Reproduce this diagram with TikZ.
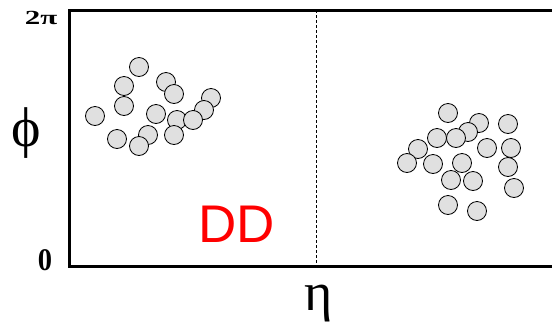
\documentclass[tikz,border=0pt]{standalone}
\usepackage{fontspec}
\usepackage{graphicx}
\setmainfont{Liberation Serif}
\newfontfamily\ddfont{Liberation Sans}
\usetikzlibrary{positioning}
\definecolor{hitgray}{RGB}{224,224,224}
\definecolor{ddred}{RGB}{255,0,0}
\tikzset{
  hit/.style={circle,draw=black,fill=hitgray,line width=0.8pt,
              minimum size=19pt,inner sep=0pt},
  frameline/.style={line width=3pt},
}

\begin{document}
\begin{tikzpicture}[x=1pt,y=-1pt,
    axislabel/.style={font=\fontsize{56}{56}\selectfont,inner sep=0pt},
    ticklabel/.style={font=\fontsize{20}{20}\selectfont\bfseries,inner sep=0pt},
  ]
  \useasboundingbox (0,0) rectangle (552,325);
  \clip (0,0) rectangle (552,325);

  % frame, open to the right
  \coordinate (tl) at (69,10);
  \coordinate (bl) at (69,266);
  \coordinate (tr) at (570,10);
  \coordinate (br) at (570,266);
  \draw[frameline] (tr) -- (tl) -- (bl) -- (br);

  % divider
  \coordinate (mtop) at (316,10);
  \coordinate (mbot) at (316,266);
  \draw[line width=1pt,dash pattern=on 3pt off 2pt] (mtop) -- (mbot);

  % left cluster
  \foreach \x/\y [count=\i] in {139/67,166/82,124/86,174/94,211/98,124/106,
      204/110,156/114,95/116,177/120,193/120,148/135,174/135,117/139,139/146}
    \node[hit] (l\i) at (\x,\y) {};

  % right cluster
  \foreach \x/\y [count=\i] in {448/113,479/123,508/124,468/132,437/138,
      456/138,487/148,511/148,418/149,407/163,433/164,462/163,508/167,
      451/180,473/181,514/188,448/205,477/211}
    \node[hit] (r\i) at (\x,\y) {};

  % labels
  \node[ticklabel] (twopi) at (41,18) {\scalebox{1.55}[1]{2π}};
  \node[ticklabel,font=\fontsize{30}{30}\selectfont\bfseries] (zero) at (45,260) {\scalebox{0.95}[1.05]{0}};
  \node[axislabel] (phi) at (26,133) {ϕ};
  \node[axislabel,font=\fontsize{54}{54}\selectfont] (eta) at (319,304) {η};
  \node[font=\fontsize{53}{53}\selectfont\ddfont,text=ddred,inner sep=0pt] (dd) at (237,224) {DD};

\end{tikzpicture}
\end{document}
